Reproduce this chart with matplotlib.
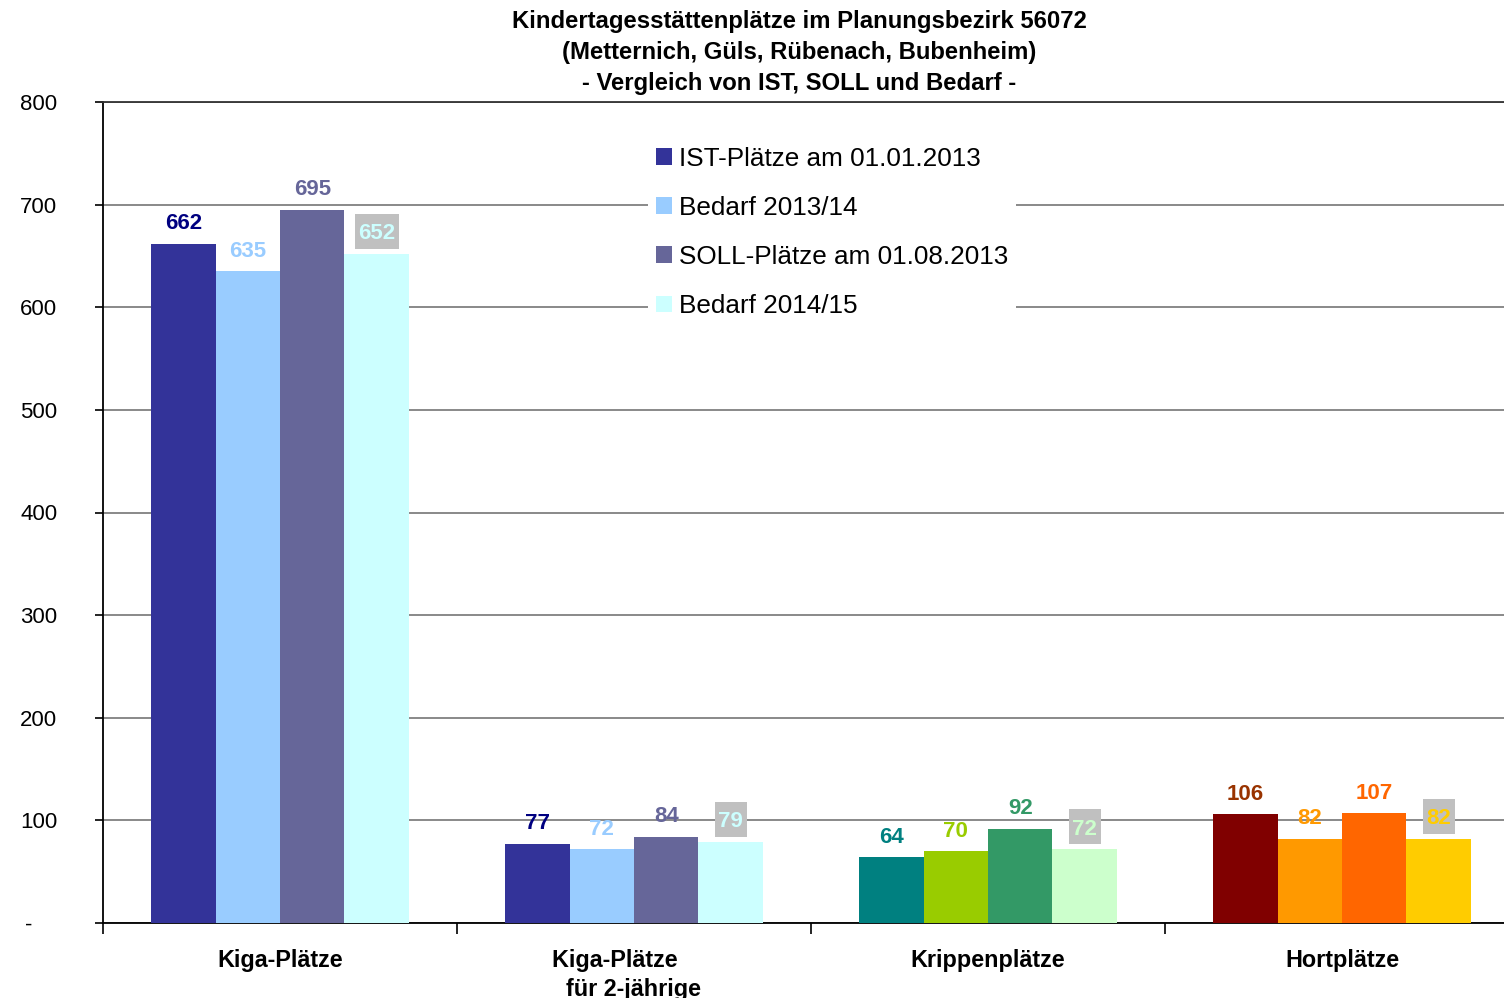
import matplotlib
matplotlib.use('Agg')
import matplotlib.pyplot as plt
from matplotlib.patches import Patch, Rectangle
from matplotlib.transforms import IdentityTransform
from matplotlib.ticker import FuncFormatter, FixedLocator
import numpy as np

plt.rcParams['font.family'] = ['Liberation Sans', 'DejaVu Sans']

title = "Kindertagesstättenplätze im Planungsbezirk 56072\n(Metternich, Güls, Rübenach, Bubenheim)\n- Vergleich von IST, SOLL und Bedarf -"
categories = ['Kiga-Plätze', 'Kiga-Plätze      \nfür 2-jährige', 'Krippenplätze', 'Hortplätze']
series = ['IST-Plätze am 01.01.2013', 'Bedarf 2013/14', 'SOLL-Plätze am 01.08.2013', 'Bedarf 2014/15']
ist_2013 = [662, 77, 64, 106]
bedarf_2013_14 = [635, 72, 70, 82]
soll_2013 = [695, 84, 92, 107]
bedarf_2014_15 = [652, 79, 72, 82]
values = [ist_2013, bedarf_2013_14, soll_2013, bedarf_2014_15]

bar_colors = [
    ['#333399', '#99CCFF', '#666699', '#CCFFFF'],
    ['#333399', '#99CCFF', '#666699', '#CCFFFF'],
    ['#008080', '#99CC00', '#339966', '#CCFFCC'],
    ['#800000', '#FF9900', '#FF6600', '#FFCC00'],
]
label_colors = [
    ['#000080', '#99CCFF', '#666699', '#CCFFFF'],
    ['#000080', '#99CCFF', '#666699', '#CCFFFF'],
    ['#008080', '#99CC00', '#339966', '#CCFFCC'],
    ['#993300', '#FF9900', '#FF6600', '#FFCC00'],
]
boxed_series = 3  # labels of last series drawn on a grey box

W, H = 1504, 998
fig = plt.figure(figsize=(W/100, H/100), dpi=100)
ax = fig.add_axes([103/W, 75/H, 1416/W, (923-102)/H])

x = np.arange(len(categories))
w = 0.182
offsets = (np.arange(4) - 1.5) * w
boxed = []
for s in range(4):
    cols = [bar_colors[c][s] for c in range(len(categories))]
    bars = ax.bar(x + offsets[s], values[s], width=w, color=cols, zorder=3)
    for c, b in enumerate(bars):
        t = ax.annotate(str(values[s][c]), (b.get_x() + b.get_width()/2, b.get_height()),
                        ha='center', va='baseline', fontsize=16, fontweight='bold',
                        color=label_colors[c][s], textcoords='offset points',
                        xytext=(0, 10.5), zorder=6)
        if s == boxed_series:
            boxed.append((t, b))

ax.set_xlim(-0.5, 3.5)
ax.set_ylim(0, 800)
ax.set_yticks(np.arange(0, 801, 100))
ax.yaxis.set_major_formatter(FuncFormatter(lambda v, p: '-    ' if v == 0 else f'{int(v)}'))
ax.tick_params(axis='y', labelsize=16, length=6, width=1.2, pad=27, color='black')
ax.grid(axis='y', color='#808080', linewidth=1.3, zorder=0)
ax.set_axisbelow(True)

ax.set_xticks(x)
ax.set_xticklabels(categories, fontsize=16.8, fontweight='bold', linespacing=1.35)
ax.tick_params(axis='x', length=0, pad=18.5)
ax.xaxis.set_minor_locator(FixedLocator([-0.5, 0.5, 1.5, 2.5]))
ax.tick_params(axis='x', which='minor', length=8, width=1.2, color='black')

for sp in ['left', 'bottom', 'top']:
    ax.spines[sp].set_color('black')
    ax.spines[sp].set_linewidth(1.3)
ax.spines['top'].set_color('#333333')
ax.spines['right'].set_visible(False)

fig.text(799/W, 1 - 10/H, title, ha='center', va='top', fontsize=17.2,
         fontweight='bold', linespacing=1.45)

handles = [Patch(facecolor=bar_colors[0][s], edgecolor='none') for s in range(4)]
leg = fig.legend(handles, series, loc='upper left',
                 bbox_to_anchor=(648/W, 1 - 139/H), fontsize=18.8,
                 handlelength=0.6, handleheight=0.6, handletextpad=0.3,
                 labelspacing=0.96, borderpad=0.3, borderaxespad=0,
                 frameon=True, fancybox=False, facecolor='white', edgecolor='none',
                 framealpha=1)
leg.set_zorder(10)

# grey boxes behind the labels of the last series
fig.canvas.draw()
r = fig.canvas.get_renderer()
for t, b in boxed:
    bb = t.get_window_extent(r)
    top_px = ax.transData.transform((0, b.get_height()))[1]
    cy = top_px + 22.5
    rect = Rectangle((bb.x0 - 3.5, cy - 17.5), bb.width + 7, 35,
                     transform=IdentityTransform(), facecolor='#C0C0C0',
                     edgecolor='none', zorder=5, clip_on=False)
    ax.add_artist(rect)

fig.savefig('out.png', dpi=100)
